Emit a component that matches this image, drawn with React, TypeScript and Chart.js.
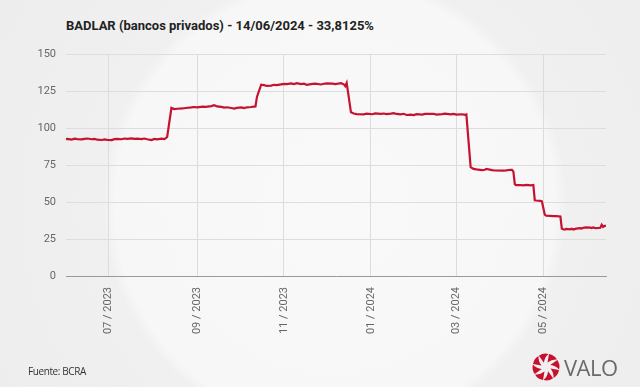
import React, { useEffect, useRef } from "react";
import { Chart, registerables } from "chart.js";

Chart.register(...registerables);

const TITLE = "BADLAR (bancos privados) - 14/06/2024 - 33,8125%";
const SOURCE = "Fuente: BCRA";

const DATES: string[] = [
  "2023-06-01","2023-06-02","2023-06-05","2023-06-07","2023-06-09","2023-06-12","2023-06-14","2023-06-16",
  "2023-06-19","2023-06-21","2023-06-23","2023-06-26","2023-06-28","2023-06-30","2023-07-03","2023-07-05",
  "2023-07-07","2023-07-10","2023-07-12","2023-07-14","2023-07-17","2023-07-19","2023-07-21","2023-07-24",
  "2023-07-26","2023-07-28","2023-07-31","2023-08-02","2023-08-04","2023-08-07","2023-08-09","2023-08-10",
  "2023-08-11",
  "2023-08-14","2023-08-16","2023-08-18","2023-08-22","2023-08-24","2023-08-28","2023-08-30","2023-09-01",
  "2023-09-05","2023-09-07","2023-09-11","2023-09-13","2023-09-15","2023-09-18","2023-09-20","2023-09-22",
  "2023-09-25","2023-09-27","2023-09-29","2023-10-02","2023-10-04","2023-10-06","2023-10-09","2023-10-11",
  "2023-10-12",
  "2023-10-13","2023-10-16","2023-10-18","2023-10-20","2023-10-23","2023-10-25","2023-10-27","2023-10-30",
  "2023-11-01","2023-11-03","2023-11-06","2023-11-08","2023-11-10","2023-11-13","2023-11-15","2023-11-17",
  "2023-11-21","2023-11-23","2023-11-27","2023-11-29","2023-12-01","2023-12-05","2023-12-07","2023-12-11",
  "2023-12-13","2023-12-14","2023-12-15",
  "2023-12-18","2023-12-20","2023-12-22","2023-12-27","2023-12-29","2024-01-02","2024-01-04","2024-01-08",
  "2024-01-10","2024-01-12","2024-01-15","2024-01-17","2024-01-19","2024-01-22","2024-01-24","2024-01-26",
  "2024-01-29","2024-01-31","2024-02-02","2024-02-06","2024-02-08","2024-02-14","2024-02-16","2024-02-20",
  "2024-02-22","2024-02-26","2024-02-28","2024-03-01","2024-03-05","2024-03-07","2024-03-08",
  "2024-03-11","2024-03-13","2024-03-15","2024-03-19","2024-03-21","2024-03-22","2024-03-26","2024-03-28",
  "2024-04-03","2024-04-05","2024-04-08","2024-04-09","2024-04-10",
  "2024-04-11","2024-04-12","2024-04-15","2024-04-17","2024-04-19","2024-04-22","2024-04-24",
  "2024-04-25","2024-04-26","2024-04-29","2024-04-30",
  "2024-05-02","2024-05-03","2024-05-06","2024-05-08","2024-05-10","2024-05-13",
  "2024-05-14","2024-05-15","2024-05-16","2024-05-17","2024-05-20","2024-05-21","2024-05-22","2024-05-24",
  "2024-05-27","2024-05-28","2024-05-29","2024-05-31","2024-06-03","2024-06-04","2024-06-05","2024-06-06",
  "2024-06-07","2024-06-10","2024-06-11","2024-06-12","2024-06-13","2024-06-14",
];

const BADLAR: number[] = [
  92.4, 92.6, 92.2, 92.8, 92.5, 92.3, 92.7, 92.9,
  92.4, 92.6, 92.1, 91.9, 92.3, 92.0, 91.8, 92.5,
  92.7, 92.4, 92.9, 92.6, 93.0, 92.6, 92.8, 92.5,
  92.9, 92.4, 91.8, 92.6, 92.3, 92.8, 92.5, 93.2,
  94.0,
  113.6, 112.8, 113.0, 113.2, 113.5, 113.9, 114.2, 114.0,
  114.5, 114.3, 114.8, 115.4, 114.6, 114.3, 113.8, 114.0,
  113.5, 113.1, 113.6, 113.9, 113.4, 114.0, 114.2, 114.5,
  114.6,
  121.0, 129.3, 129.0, 128.4, 128.6, 129.2, 129.0, 129.5,
  129.8, 129.6, 130.1, 129.7, 130.3, 129.6, 129.9, 129.2,
  129.8, 130.0, 129.4, 129.9, 130.2, 130.0, 129.6, 130.3,
  129.5, 128.3, 130.5,
  110.6, 109.8, 109.4, 109.2, 109.7, 109.3, 109.9, 109.6,
  109.8, 109.4, 109.7, 110.0, 109.5, 109.2, 109.6, 108.8,
  109.0, 108.7, 109.3, 109.0, 109.5, 109.6, 109.1, 109.4,
  109.7, 109.2, 109.5, 109.0, 109.3, 108.9, 109.2,
  73.6, 72.4, 72.0, 71.6, 71.8, 72.3, 71.5, 71.3,
  71.2, 71.4, 71.8, 71.7, 70.5,
  62.0, 61.4, 61.5, 61.2, 61.6, 61.3, 61.5,
  51.2, 51.0, 50.8, 50.5,
  41.5, 40.8, 40.6, 40.4, 40.5, 40.2,
  32.0, 31.6, 31.3, 31.8, 31.5, 31.9, 31.4, 32.0,
  32.3, 32.1, 32.6, 32.9, 32.7, 32.4, 32.8, 32.5,
  32.3, 32.6, 34.6, 33.2, 33.9, 33.8125,
];

const TICK_DATES: string[] = ["2023-07-01", "2023-09-01", "2023-11-01", "2024-01-01", "2024-03-01", "2024-05-01"];
const TICK_LABELS: string[] = ["07 / 2023", "09 / 2023", "11 / 2023", "01 / 2024", "03 / 2024", "05 / 2024"];
const X_START = "2023-06-01";
const X_END = "2024-06-14";
const Y_TICKS_STEP = 25;
const Y_MIN = 0;
const Y_MAX = 150;

const toDay = (s: string): number => {
  const [y, m, d] = s.split("-").map(Number);
  const [y0, m0, d0] = X_START.split("-").map(Number);
  return Math.round((Date.UTC(y, m - 1, d) - Date.UTC(y0, m0 - 1, d0)) / 86400000);
};

function Logo() {
  const blades = [0, 45, 90, 135, 180, 225, 270, 315];
  return (
    <div style={{ position: "absolute", left: 531, top: 352, display: "flex", alignItems: "center" }}>
      <svg width="30" height="30" viewBox="-15 -15 30 30">
        {blades.map((a) => (
          <path
            key={a}
            d="M 1.5 -4.5 L 3 -13 Q 8.5 -12 11 -7.5 Q 6 -8 1.5 -4.5 Z"
            fill="#c8102e"
            transform={`rotate(${a})`}
          />
        ))}
      </svg>
      <span
        style={{
          fontFamily: "'Open Sans', sans-serif",
          fontSize: 22,
          color: "#6a6a6a",
          marginLeft: 3,
          letterSpacing: -0.5,
          lineHeight: "24px",
        }}
      >
        VALO
      </span>
    </div>
  );
}

export default function App() {
  const ref = useRef<HTMLCanvasElement | null>(null);

  useEffect(() => {
    if (!ref.current) return;
    const points = DATES.map((d, i) => ({ x: toDay(d), y: BADLAR[i] }));
    const chart = new Chart(ref.current, {
      type: "line",
      data: {
        datasets: [
          {
            label: "BADLAR",
            data: points,
            borderColor: "#c41230",
            borderWidth: 2.2,
            pointRadius: 0,
            tension: 0,
            fill: false,
          },
        ],
      },
      options: {
        animation: false,
        responsive: false,
        maintainAspectRatio: false,
        layout: { padding: { top: 54, right: 34, left: 0, bottom: 0 } },
        plugins: {
          legend: { display: false },
          tooltip: { enabled: false },
          title: { display: false },
        },
        scales: {
          x: {
            type: "linear",
            min: toDay(X_START),
            max: toDay(X_END),
            afterBuildTicks: (scale: any) => {
              scale.ticks = TICK_DATES.map((d) => ({ value: toDay(d) }));
            },
            afterFit: (scale: any) => {
              scale.height = 111;
            },
            ticks: {
              autoSkip: false,
              minRotation: 90,
              maxRotation: 90,
              padding: 11,
              color: "#666",
              font: { family: "Roboto", size: 11 },
              callback: (_v: any, i: number) => TICK_LABELS[i],
            },
            grid: { color: "#dcdcdc", drawTicks: false, lineWidth: 1 },
            border: { display: true, color: "#9a9a9a", width: 1 },
          },
          y: {
            min: Y_MIN,
            max: Y_MAX,
            afterFit: (scale: any) => {
              scale.width = 66;
            },
            ticks: {
              stepSize: Y_TICKS_STEP,
              padding: 10,
              color: "#666",
              font: { family: "Roboto", size: 11 },
            },
            grid: { color: "#dddddd", drawTicks: false, lineWidth: 1 },
            border: { display: false },
          },
        },
      },
    });
    return () => chart.destroy();
  }, []);

  return (
    <div
      style={{
        position: "absolute",
        left: 0,
        top: 0,
        width: 640,
        height: 387,
        overflow: "hidden",
        background:
          "radial-gradient(circle at 335px 205px, #f9f9f9 0px, #f7f7f7 220px, #f0f0f0 232px, #ededed 420px)",
      }}
    >
      <div
        style={{
          position: "absolute",
          left: 66,
          top: 18,
          fontFamily: "Roboto, sans-serif",
          fontWeight: 700,
          fontSize: 13,
          lineHeight: "16px",
          color: "#222",
          whiteSpace: "nowrap",
        }}
      >
        {TITLE}
      </div>
      <canvas ref={ref} width={640} height={387} style={{ position: "absolute", left: 0, top: 0, display: "block" }} />
      <div
        style={{
          position: "absolute",
          left: 28,
          top: 364,
          fontFamily: "'Open Sans', sans-serif",
          fontSize: 10,
          lineHeight: "14px",
          color: "#333",
          letterSpacing: -0.4,
          whiteSpace: "nowrap",
        }}
      >
        {SOURCE}
      </div>
      <Logo />
    </div>
  );
}
